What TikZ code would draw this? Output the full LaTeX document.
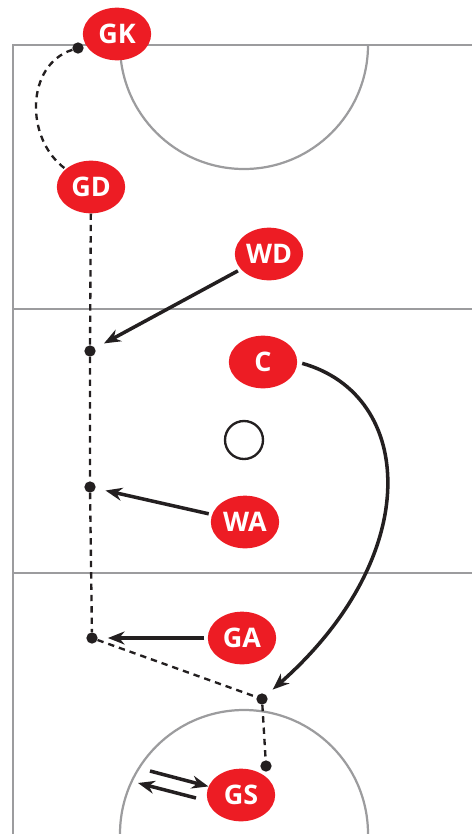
\documentclass[tikz,border=0pt]{standalone}
\usepackage{fontspec}
\setmainfont{Open Sans}
\usetikzlibrary{arrows.meta,shapes.geometric}
\definecolor{bib}{HTML}{ED1C24}
\definecolor{courtgrey}{HTML}{9C9C9E}
\definecolor{ink}{HTML}{231F20}

\begin{document}
\begin{tikzpicture}[
  x=0.03cm,y=-0.03cm,
  player/.style={ellipse,fill=bib,text=white,font=\fontsize{23}{23}\selectfont\bfseries,minimum width=2.05cm,minimum height=1.58cm,inner sep=0pt},
  dot/.style={circle,fill=ink,minimum size=3.4mm,inner sep=0pt},
  court/.style={draw=courtgrey,line width=1.9pt},
  move/.style={draw=ink,line width=2pt,dash pattern=on 1.9mm off 1.5mm},
  pass/.style={-{Stealth[length=5mm,width=3.9mm]},draw=ink,line width=3pt}
]
\useasboundingbox (0,0) rectangle (472,834);
% court
\draw[court] (13,834) |- (472,45);
\draw[court] (13,309) -- (472,309);
\draw[court] (13,573) -- (472,573);
\draw[court] (120,45) arc[start angle=180,end angle=0,radius=124];
\draw[court] (120,834) arc[start angle=180,end angle=360,radius=124];
\draw[ink,line width=2pt] (244,440) circle[radius=19];
% dots
\node[dot] (k) at (78,48) {};
\node[dot] (p1) at (90,351) {};
\node[dot] (p2) at (90,487) {};
\node[dot] (p3) at (92,638) {};
\node[dot] (p4) at (262,699) {};
\node[dot] (p5) at (266,766) {};
% players
\node[player] (gk) at (117,34) {GK};
\node[player] (gd) at (91,187) {GD};
\node[player] (wd) at (269,254) {WD};
\node[player] (c) at (263,362) {C};
\node[player] (wa) at (245,522) {WA};
\node[player] (ga) at (242,638) {GA};
\node[player] (gs) at (241,795) {GS};
% runs
\draw[move] (k) .. controls (25,65) and (25,140) .. (gd);
\draw[move] (gd) -- (p1) -- (p2) -- (p3) -- (p4) -- (p5);
% passes
\draw[pass,shorten <=1mm,shorten >=3mm] (wd) -- (p1);
\draw[pass,shorten <=1mm,shorten >=3mm] (wa) -- (p2);
\draw[pass,shorten <=1mm,shorten >=3mm] (ga) -- (p3);
\draw[pass,shorten <=1.5mm,shorten >=2.5mm] (c.east) .. controls (415,395) and (425,555) .. (p4);
\coordinate (s1) at (150,771);
\coordinate (s2) at (138,783);
\coordinate (s3) at (196,798);
\draw[pass] (s1) -- (gs);
\draw[pass] (s3) -- (s2);
\end{tikzpicture}
\end{document}
